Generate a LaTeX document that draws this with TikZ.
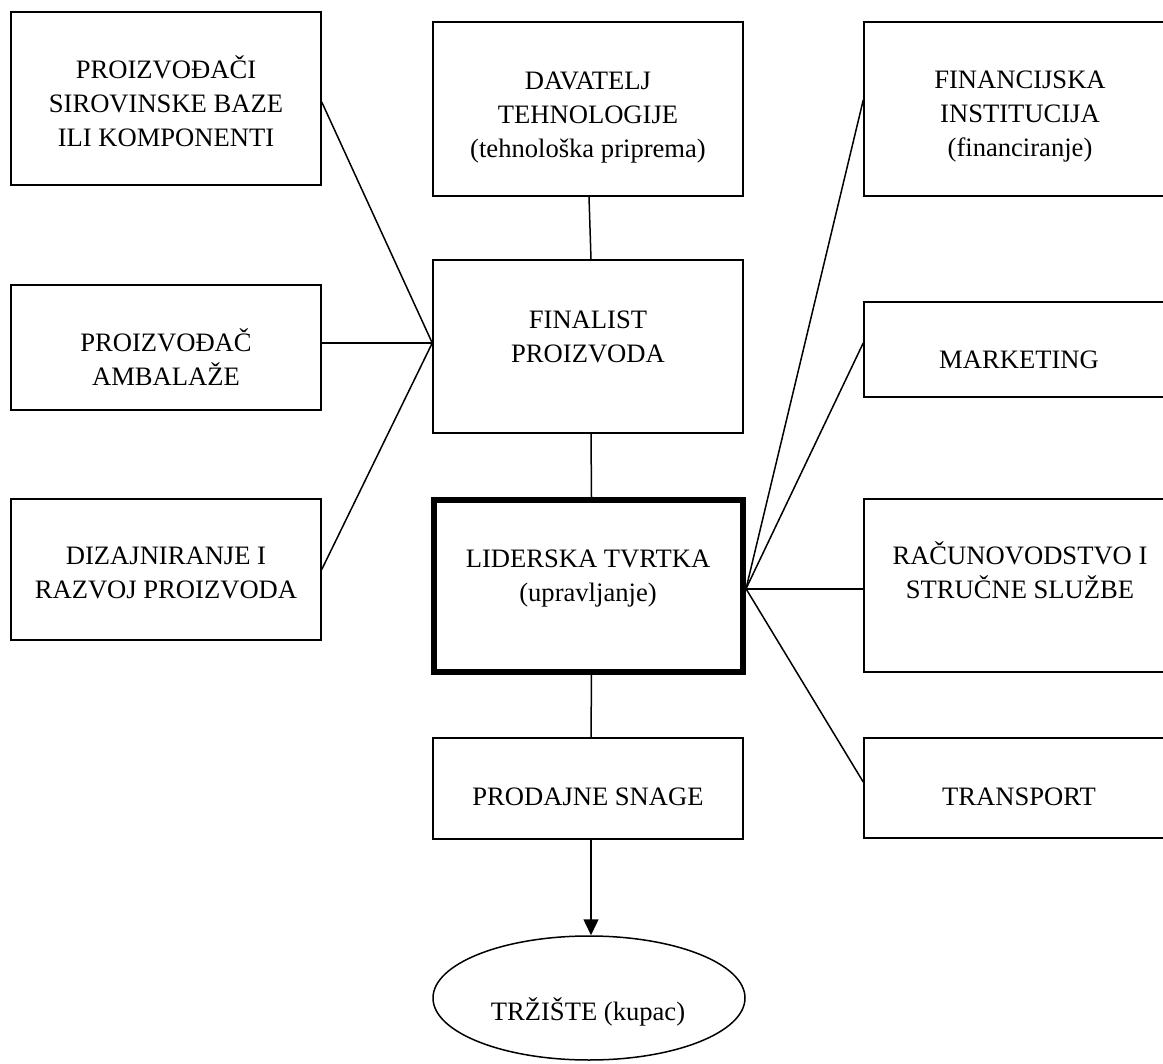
\documentclass[tikz,border=0pt]{standalone}
\usepackage{fontspec}
\setmainfont{Liberation Serif}
\usetikzlibrary{shapes.geometric,arrows.meta}
\begin{document}
\begin{tikzpicture}[x=0.5pt,y=-0.5pt,
  box/.style={draw,line width=0.75pt,minimum width=155pt,inner sep=0pt},
  thickbox/.style={draw,line width=3pt,minimum width=154.5pt,inner sep=0pt},
  lbl/.style={align=center,font=\fontsize{13.3pt}{17pt}\selectfont,inner sep=0pt},
  conn/.style={line width=0.75pt}]
\clip (0,0) rectangle (1163,1064);
\fill[white] (0,0) rectangle (1163,1064);
% boxes
\node[box,minimum height=86.5pt] (sirov) at (166,98.5) {};
\node[box,minimum height=62.5pt] (amb) at (166,347.5) {};
\node[box,minimum height=70.5pt] (diz) at (166,569.5) {};
\node[box,minimum height=87pt] (dav) at (588,109) {};
\node[box,minimum height=86.5pt] (fin) at (588,346.5) {};
\node[thickbox,minimum height=85.75pt] (lid) at (588.5,585.75) {};
\node[box,minimum height=50.5pt] (prod) at (588,788.5) {};
\node[draw,ellipse,line width=0.75pt,minimum width=156pt,minimum height=62pt,inner sep=0pt] (trz) at (589,998) {};
\node[box,minimum height=87pt] (fini) at (1019,109) {};
\node[box,minimum height=47.5pt] (mark) at (1019,349.5) {};
\node[box,minimum height=86.5pt] (rac) at (1019,585.5) {};
\node[box,minimum height=50pt] (trans) at (1019,788) {};
% labels
\node[lbl] (sirovT) at (166,105.5) {\strut PROIZVOĐAČI\\\strut SIROVINSKE BAZE\\\strut ILI KOMPONENTI};
\node[lbl] (ambT) at (166,362) {\strut PROIZVOĐAČ\\\strut AMBALAŽE};
\node[lbl] (dizT) at (166,575) {\strut DIZAJNIRANJE I\\\strut RAZVOJ PROIZVODA};
\node[lbl] (davT) at (588,117) {\strut DAVATELJ\\\strut TEHNOLOGIJE\\\strut (tehnološka priprema)};
\node[lbl] (finT) at (588,339) {\strut FINALIST\\\strut PROIZVODA};
\node[lbl] (lidT) at (588,578) {\strut LIDERSKA TVRTKA\\\strut (upravljanje)};
\node[lbl] (prodT) at (588,799) {\strut PRODAJNE SNAGE};
\node[lbl] (trzT) at (588,1014) {\strut TRŽIŠTE (kupac)};
\node[lbl] (finiT) at (1020,116) {\strut FINANCIJSKA\\\strut INSTITUCIJA\\\strut (financiranje)};
\node[lbl] (markT) at (1019,362) {\strut MARKETING};
\node[lbl] (racT) at (1020,575) {\strut RAČUNOVODSTVO I\\\strut STRUČNE SLUŽBE};
\node[lbl] (transT) at (1019,799) {\strut TRANSPORT};
% left connectors
\coordinate (jl) at ([yshift=1.75pt]fin.west);
\draw[conn] ([yshift=-1.75pt]sirov.east) -- (jl);
\draw[conn] (amb.east |- jl) -- (jl);
\draw[conn] (diz.east) -- (jl);
% right connectors
\coordinate (jr) at ([yshift=-1.5pt]lid.east);
\draw[conn] (jr) -- ([yshift=4.5pt]fini.west);
\draw[conn] (jr) -- ([yshift=3.25pt]mark.west);
\draw[conn] (jr) -- (rac.west |- jr);
\draw[conn] (jr) -- ([yshift=3pt]trans.west);
% vertical connectors
\draw[conn] ([xshift=0.5pt]dav.south) -- ([xshift=1.5pt]fin.north);
\draw[conn] ([xshift=1.5pt]fin.south) -- ([xshift=1.5pt]lid.north);
\draw[conn] ([xshift=1.5pt]lid.south) -- ([xshift=1.5pt]prod.north);
\draw[conn,-{Triangle[length=8pt,width=7.5pt]}] ([xshift=1.5pt]prod.south) -- ([xshift=1pt]trz.north);
\end{tikzpicture}
\end{document}
